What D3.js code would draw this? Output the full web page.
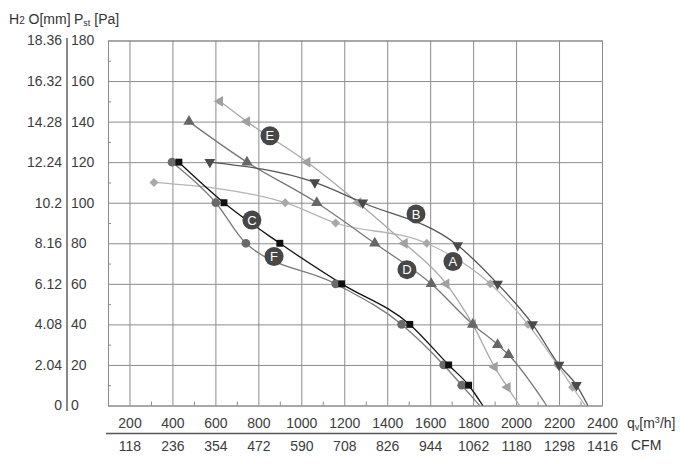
<!DOCTYPE html>
<html>
<head>
<meta charset="utf-8">
<style>
    body {
        margin: 0;
        background: #fff;
    }

    svg {
        display: block;
        font-family: 'Liberation Sans', Arial, Helvetica, sans-serif;
    }

    .grid .tick line {
        stroke: #8c8c8c;
    }

    .grid .domain,
    .lab .domain,
    .lab .tick line {
        display: none;
    }

    .lab .tick text {
        font-size: 14px;
        fill: #3c3c3c;
    }
</style>
</head>
<body>
<svg width="700" height="464"></svg>

<script src="https://d3js.org/d3.v7.min.js"></script>
<script>
    // axis ticks
    let qvTicks = [200, 400, 600, 800, 1000, 1200, 1400, 1600, 1800, 2000, 2200, 2400]
    let qvMinor = [300, 500, 700, 900, 1100, 1300, 1500, 1700, 1900, 2100, 2300]
    let cfmLabels = ["118", "236", "354", "472", "590", "708", "826", "944", "1062", "1180", "1298", "1416"]
    let paTicks = [0, 20, 40, 60, 80, 100, 120, 140, 160, 180]
    let paMinor = [10, 30, 50, 70, 90, 110, 130, 150, 170]
    let mmLabels = ["0", "2.04", "4.08", "6.12", "8.16", "10.2", "12.24", "14.28", "16.32", "18.36"]

    // fan curves [qv m3/h, Pst Pa]; last point of each is free-blowing (no marker)
    let curveA = [[314, 110], [925, 100], [1160, 90], [1584, 80], [1880, 60], [2055, 40], [2193, 20], [2263, 9], [2322, 0]]
    let curveB = [[574, 120], [1063, 110], [1286, 100], [1728, 79], [1914, 60], [2077, 40], [2200, 20], [2281, 10], [2334, 0]]
    let curveC = [[430, 120], [640, 100], [900, 80], [1188, 60], [1505, 40], [1686, 20], [1779, 10], [1845, 0]]
    let curveD = [[477, 140], [747, 120], [1072, 100], [1342, 80], [1605, 60], [1798, 40], [1914, 30], [1965, 25], [2142, 0]]
    let curveE = [[621, 150], [747, 140], [1028, 120], [1265, 100], [1481, 80], [1675, 60], [1798, 40], [1900, 19], [1960, 9], [2016, 0]]
    let curveF = [[398, 120], [602, 100], [742, 80], [1160, 60], [1467, 40], [1663, 20], [1747, 10], [1830, 0]]

    // letter tags, placed in data units
    let tags = [["E", 854, 133], ["B", 1534, 94.5], ["A", 1706, 71], ["D", 1492, 67], ["C", 770, 91.5], ["F", 873, 73.5]]

    let svg = d3.select("svg")

    let x = d3.scaleLinear().domain([100, 2400]).range([108, 602])
    let y = d3.scaleLinear().domain([0, 180]).range([405.5, 40.5])

    let plotW = 494
    let plotH = 365

    // grid
    svg.append("g")
        .attr("class", "grid")
        .attr("transform", `translate(0,${y(0)})`)
        .call(d3.axisBottom(x).tickValues(qvTicks).tickSize(-plotH).tickFormat(""))

    svg.append("g")
        .attr("class", "grid")
        .attr("transform", `translate(${x(100)},0)`)
        .call(d3.axisLeft(y).tickValues(paTicks).tickSize(-plotW).tickFormat(""))

    svg.append("g")
        .attr("class", "grid")
        .attr("transform", `translate(0,${y(0)})`)
        .call(d3.axisBottom(x).tickValues(qvMinor).tickSize(-4).tickFormat(""))

    svg.append("g")
        .attr("class", "grid")
        .attr("transform", `translate(${x(100)},0)`)
        .call(d3.axisLeft(y).tickValues(paMinor).tickSize(-3).tickFormat(""))

    svg.append("rect")
        .attr("x", x(100) + 0.5)
        .attr("y", y(180) + 0.5)
        .attr("width", plotW)
        .attr("height", plotH)
        .attr("fill", "none")
        .attr("stroke", "#8c8c8c")

    // left scales (mm | Pa)
    svg.append("g")
        .attr("class", "lab")
        .attr("transform", "translate(62,0)")
        .call(d3.axisLeft(y).tickValues(paTicks).tickSize(0).tickPadding(0).tickFormat((d, i) => mmLabels[i]))

    svg.append("g")
        .attr("class", "lab")
        .attr("transform", "translate(71,0)")
        .call(d3.axisRight(y).tickValues(paTicks).tickSize(0).tickPadding(0))

    svg.append("line")
        .attr("x1", 67).attr("x2", 67)
        .attr("y1", 38).attr("y2", 411)
        .attr("stroke", "#555")
        .attr("stroke-width", 1.4)

    let head = svg.append("text")
        .attr("x", 9).attr("y", 24)
        .attr("font-size", 14)
        .attr("fill", "#333")
    head.append("tspan").text("H")
    head.append("tspan").attr("font-size", 10).text("2")
    head.append("tspan").text(" O[mm]")

    let head2 = svg.append("text")
        .attr("x", 74).attr("y", 24)
        .attr("font-size", 14)
        .attr("fill", "#333")
    head2.append("tspan").text("P")
    head2.append("tspan").attr("font-size", 9).attr("dy", 2).text("st")
    head2.append("tspan").attr("dy", -2).text(" [Pa]")

    // bottom scales (m3/h over CFM)
    svg.append("g")
        .attr("class", "lab")
        .attr("transform", `translate(0,${y(0)})`)
        .call(d3.axisBottom(x).tickValues(qvTicks).tickSize(0).tickPadding(12.5).tickFormat(d3.format("d")))

    svg.append("g")
        .attr("class", "lab")
        .attr("transform", `translate(0,${y(0)})`)
        .call(d3.axisBottom(x).tickValues(qvTicks).tickSize(0).tickPadding(35.5).tickFormat((d, i) => cfmLabels[i]))

    svg.append("line")
        .attr("x1", 106).attr("x2", 617)
        .attr("y1", 433.5).attr("y2", 433.5)
        .attr("stroke", "#555")
        .attr("stroke-width", 1.3)

    let qvText = svg.append("text")
        .attr("x", 627).attr("y", 428)
        .attr("font-size", 14)
        .attr("fill", "#333")
    qvText.append("tspan").text("q")
    qvText.append("tspan").attr("font-size", 9).attr("dy", 2).text("v")
    qvText.append("tspan").attr("dy", -2).text("[m")
    qvText.append("tspan").attr("font-size", 9).attr("dy", -5).text("3")
    qvText.append("tspan").attr("dy", 5).text("/h]")

    svg.append("text")
        .attr("x", 631).attr("y", 450)
        .attr("font-size", 14)
        .attr("fill", "#333")
        .text("CFM")

    // curves
    let styles = {
        A: { color: "#b4b4b4", mark: "#a8a8a8", type: d3.symbolSquare, size: 40, rot: 45 },
        B: { color: "#555555", mark: "#4a4a4a", type: d3.symbolTriangle, size: 50, rot: 180 },
        C: { color: "#111111", mark: "#111111", type: d3.symbolSquare, size: 48, rot: 0 },
        D: { color: "#777777", mark: "#666666", type: d3.symbolTriangle, size: 55, rot: 0 },
        E: { color: "#a8a8a8", mark: "#a0a0a0", type: d3.symbolTriangle, size: 50, rot: -90 },
        F: { color: "#7a7a7a", mark: "#6a6a6a", type: d3.symbolCircle, size: 60, rot: 0 }
    }

    let series = [["A", curveA], ["E", curveE], ["D", curveD], ["F", curveF], ["B", curveB], ["C", curveC]]

    let line = d3.line()
        .x(d => x(d[0]))
        .y(d => y(d[1]))
        .curve(d3.curveMonotoneX)

    svg.append("g")
        .selectAll("path")
        .data(series)
        .join("path")
        .attr("d", d => line(d[1]))
        .attr("fill", "none")
        .attr("stroke", d => styles[d[0]].color)
        .attr("stroke-width", 1.3)

    series.forEach(s => {
        let st = styles[s[0]]
        svg.append("g")
            .selectAll("path")
            .data(s[1].slice(0, -1))
            .join("path")
            .attr("d", d3.symbol().type(st.type).size(st.size))
            .attr("transform", d => `translate(${x(d[0])},${y(d[1])}) rotate(${st.rot})`)
            .attr("fill", st.mark)
    })

    // tags
    let tag = svg.append("g")
        .selectAll("g")
        .data(tags)
        .join("g")
        .attr("transform", d => `translate(${x(d[1])},${y(d[2])})`)

    tag.append("circle")
        .attr("r", 9.5)
        .attr("fill", "#474747")

    tag.append("text")
        .attr("text-anchor", "middle")
        .attr("dy", "0.36em")
        .attr("font-size", 13)
        .attr("fill", "#fff")
        .text(d => d[0])
</script>
</body>
</html>
